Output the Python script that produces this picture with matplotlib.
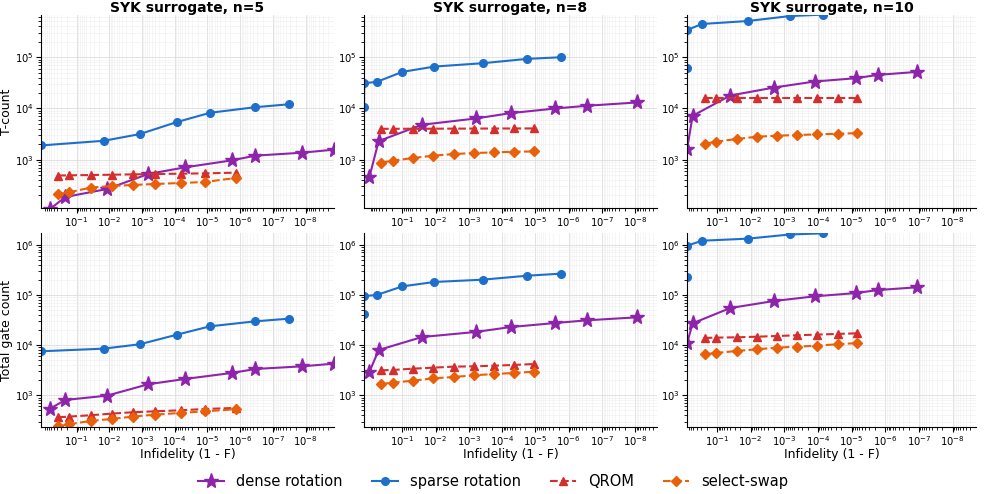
import numpy as np
import matplotlib
matplotlib.use("Agg")
import matplotlib.pyplot as plt
from matplotlib.ticker import LogLocator, NullFormatter, FixedLocator

# === data (infidelity, T-count, total gate count) ===
sizes = [5, 8, 10]

# n=5
dense_x_5 = [0.65, 0.22, 0.0116, 6.5e-4, 4.8e-5, 1.8e-6, 3.4e-7, 1.27e-8, 1.37e-9]
dense_t_5 = [109, 187, 268, 526, 709, 970, 1200, 1370, 1570]
dense_g_5 = [543, 809, 987, 1660, 2120, 2790, 3350, 3780, 4270]
sparse_x_5 = [1.20, 0.0147, 1.17e-3, 8.7e-5, 8.3e-6, 3.4e-7, 3.1e-8]
sparse_t_5 = [1900, 2340, 3160, 5420, 8240, 10600, 12100]
sparse_g_5 = [7540, 8510, 10400, 16100, 23700, 29800, 33700]
lut_x_5 = [0.363, 0.168, 0.0374, 8.4e-3, 1.91e-3, 3.9e-4, 6.5e-5, 1.21e-5, 1.34e-6]
qrom_t_5 = [490, 495, 502, 509, 517, 525, 533, 541, 558]
qrom_g_5 = [366, 377, 401, 433, 460, 481, 504, 535, 561]
swap_t_5 = [214, 231, 285, 307, 321, 336, 351, 367, 440]
swap_g_5 = [242, 265, 309, 339, 377, 413, 446, 481, 527]

# n=8
dense_x_8 = [0.98, 0.515, 0.0256, 6.2e-4, 5.6e-5, 2.5e-6, 2.8e-7, 8.9e-9]
dense_t_8 = [459, 2310, 4810, 6380, 8110, 10000, 11300, 13100]
dense_g_8 = [2920, 8000, 14500, 18300, 22900, 27600, 31200, 35800]
sparse_x_8 = [1.42, 1.40, 0.59, 0.1, 0.0109, 3.9e-4, 1.8e-5, 1.72e-6]
sparse_t_8 = [10800, 31200, 33000, 51800, 65800, 76400, 92900, 100000]
sparse_g_8 = [41700, 95000, 99500, 148000, 181000, 201000, 241000, 265000]
lut_x_8 = [0.44, 0.195, 0.0467, 0.0117, 2.79e-3, 7.0e-4, 1.71e-4, 4.3e-5, 1.07e-5]
qrom_t_8 = [4000, 4010, 4020, 4030, 4040, 4050, 4060, 4070, 4080]
qrom_g_8 = [3150, 3200, 3400, 3560, 3730, 3780, 3900, 4030, 4210]
swap_t_8 = [875, 958, 1080, 1200, 1290, 1350, 1390, 1430, 1450]
swap_g_8 = [1680, 1790, 1960, 2180, 2320, 2510, 2660, 2790, 2960]

# n=10
dense_x_10 = [0.77, 0.527, 0.0402, 2.04e-3, 1.26e-4, 7.3e-6, 1.67e-6, 1.11e-7]
dense_t_10 = [1640, 7200, 17900, 25600, 33600, 39000, 45300, 51800]
dense_g_10 = [11000, 27200, 54800, 75600, 93600, 109000, 125000, 142000]
sparse_x_10 = [0.776, 0.77, 0.279, 0.012, 6.7e-4, 7.3e-5]
sparse_t_10 = [63000, 341000, 446000, 510000, 638000, 678000]
sparse_g_10 = [227000, 955000, 1.2e6, 1.32e6, 1.6e6, 1.68e6]
lut_x_10 = [0.232, 0.110, 0.0261, 6.65e-3, 1.66e-3, 4.2e-4, 1.08e-4, 2.62e-5, 6.7e-6]
qrom_t_10 = [16100, 16100, 16100, 16100, 16100, 16100, 16100, 16100, 16100]
qrom_g_10 = [13900, 14100, 14300, 14700, 15200, 15700, 16200, 16700, 17200]
swap_t_10 = [2050, 2240, 2530, 2810, 2940, 3030, 3120, 3210, 3300]
swap_g_10 = [6560, 6970, 7640, 8250, 8910, 9320, 9760, 10400, 11000]

x_ticks = [1e-1, 1e-2, 1e-3, 1e-4, 1e-5, 1e-6, 1e-7, 1e-8]

panels = {
    5: dict(dense=(dense_x_5, dense_t_5, dense_g_5), sparse=(sparse_x_5, sparse_t_5, sparse_g_5),
            qrom=(lut_x_5, qrom_t_5, qrom_g_5), swap=(lut_x_5, swap_t_5, swap_g_5)),
    8: dict(dense=(dense_x_8, dense_t_8, dense_g_8), sparse=(sparse_x_8, sparse_t_8, sparse_g_8),
            qrom=(lut_x_8, qrom_t_8, qrom_g_8), swap=(lut_x_8, swap_t_8, swap_g_8)),
    10: dict(dense=(dense_x_10, dense_t_10, dense_g_10), sparse=(sparse_x_10, sparse_t_10, sparse_g_10),
             qrom=(lut_x_10, qrom_t_10, qrom_g_10), swap=(lut_x_10, swap_t_10, swap_g_10)),
}

xlims = {5: (10**0.088, 10**-8.87), 8: (10**0.153, 10**-8.653), 10: (10**-0.11, 10**-8.695)}
ylims = [(114, 6.68e5), (234, 1.71e6)]

styles = {
    "dense": dict(label="dense rotation", color="#8E24AA", marker="*", ms=11, ls="-"),
    "sparse": dict(label="sparse rotation", color="#1E6FCC", marker="o", ms=5.5, ls="-"),
    "qrom": dict(label="QROM", color="#D32F2F", marker="^", ms=5.5, ls="--"),
    "swap": dict(label="select-swap", color="#E8600A", marker="D", ms=5.5, ls="--"),
}

W, H = 986, 494
fig = plt.figure(figsize=(W / 100, H / 100), dpi=100)

col_px = [(41, 334), (364, 657), (687, 976)]
row_px = [(15, 208), (233, 427)]

for r, (top, bot) in enumerate(row_px):
    for c, n in enumerate(sizes):
        l, rr = col_px[c]
        ax = fig.add_axes([l / W, 1 - bot / H, (rr - l) / W, (bot - top) / H])
        for key, st in styles.items():
            xs, ts, gs = panels[n][key]
            ys = ts if r == 0 else gs
            ax.plot(xs, ys, color=st["color"], marker=st["marker"], ms=st["ms"],
                    ls=st["ls"], lw=1.5, label=st["label"])
        ax.set_xscale("log")
        ax.set_yscale("log")
        ax.set_xlim(*xlims[n])
        ax.set_ylim(*ylims[r])
        ax.xaxis.set_major_locator(FixedLocator(x_ticks))
        ax.xaxis.set_minor_locator(LogLocator(base=10, subs=np.arange(2, 10), numticks=30))
        ax.xaxis.set_minor_formatter(NullFormatter())
        ax.yaxis.set_minor_locator(LogLocator(base=10, subs=np.arange(2, 10), numticks=30))
        ax.yaxis.set_minor_formatter(NullFormatter())
        ax.grid(True, which="major", color="#dddddd", lw=0.6)
        ax.grid(True, which="minor", color="#eeeeee", lw=0.4)
        ax.set_axisbelow(True)
        for s in ["top", "right"]:
            ax.spines[s].set_visible(False)
        ax.tick_params(labelsize=7.2, pad=2)
        if r == 0:
            ax.set_title(f"SYK surrogate, n={n}", fontsize=10, fontweight="bold", pad=1)
        else:
            ax.set_xlabel("Infidelity (1 - F)", fontsize=9)
            ax.xaxis.set_label_coords(0.5, -0.11)
        if c == 0:
            ax.set_ylabel("T-count" if r == 0 else "Total gate count", fontsize=9)
            ax.yaxis.set_label_coords(-0.095, 0.5)
        if r == 0 and c == 0:
            handles, labels = ax.get_legend_handles_labels()

fig.legend(handles, labels, loc="center", bbox_to_anchor=(0.5, 0.026), ncol=4,
           frameon=False, fontsize=10.5, handlelength=1.8, columnspacing=2.0)

fig.savefig("out.png", dpi=100)
